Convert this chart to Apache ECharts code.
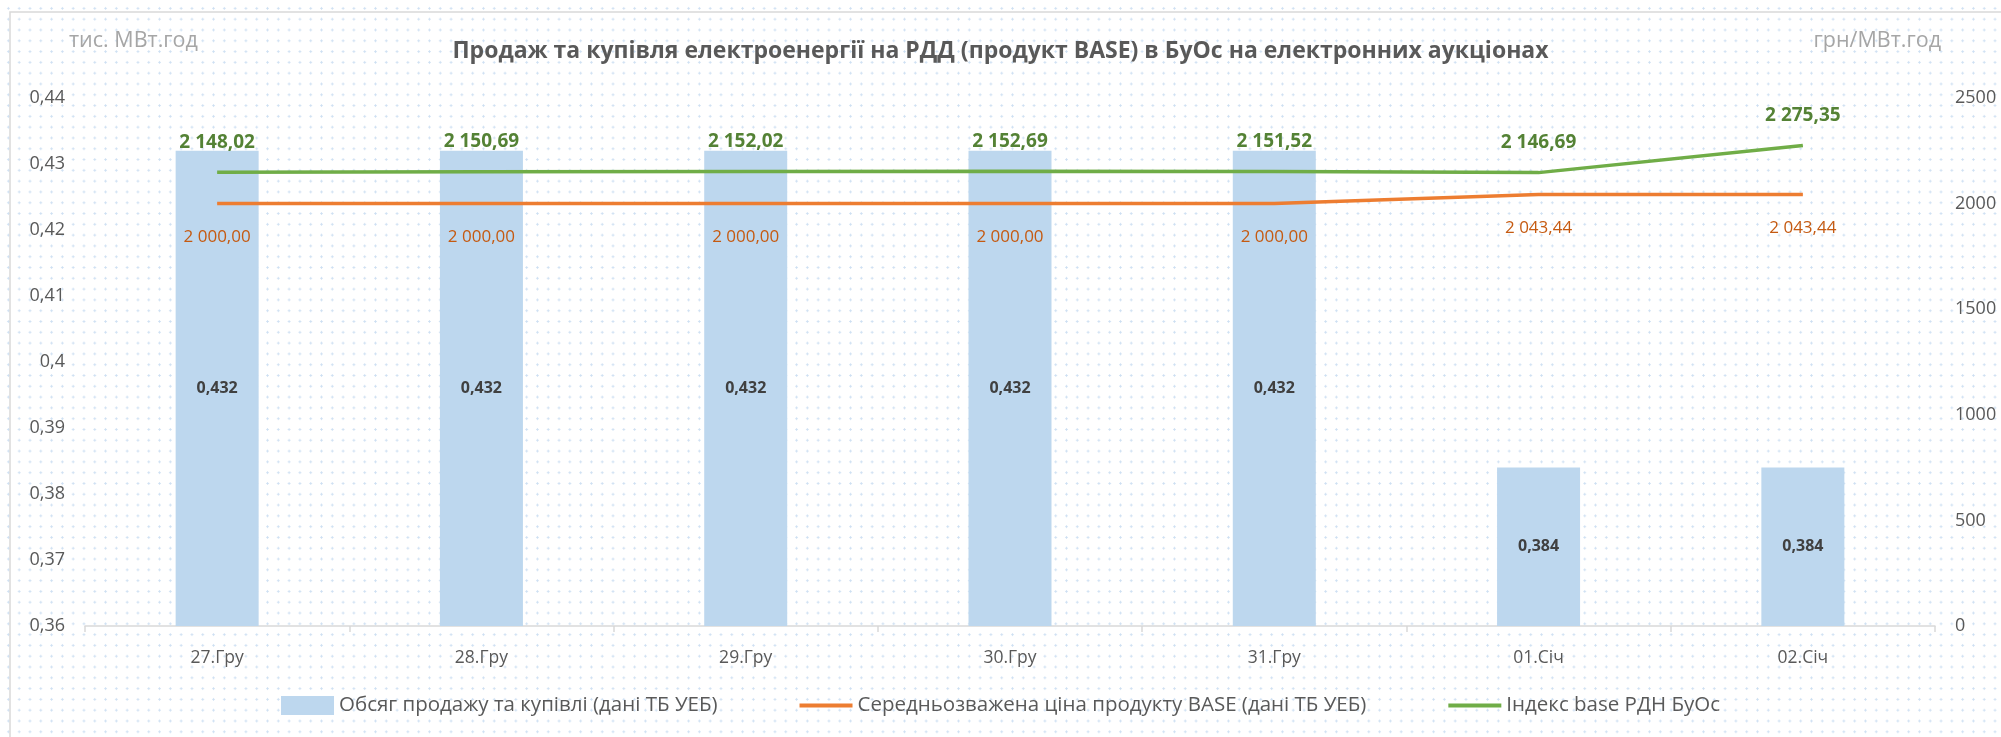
<!DOCTYPE html>
<html lang="uk">
<head>
  <meta charset="UTF-8">
  <title>Продаж та купівля електроенергії на РДД</title>
  <script src="https://cdn.jsdelivr.net/npm/echarts@6/dist/echarts.min.js"></script>
  <style>
    html,body{padding:0;margin:0;}
    body{
      background-color:#fff;
      background-image:radial-gradient(circle, #cddff2 0.9px, transparent 1.4px);
      background-size:10.8px 10.8px;
      background-position:3px 3px;
    }
    #chartBox{width:2001px;height:737px;}
  </style>
</head>
<body>
  <div id="chartBox"></div>
  <script>
    // дані з графіка
    const days = ['27.Гру','28.Гру','29.Гру','30.Гру','31.Гру','01.Січ','02.Січ']
    const volume = [0.432,0.432,0.432,0.432,0.432,0.384,0.384]      // тис. МВт.год
    const avgPrice = [2000,2000,2000,2000,2000,2043.44,2043.44]      // грн/МВт.год
    const baseIndex = [2148.02,2150.69,2152.02,2152.69,2151.52,2146.69,2275.35]
    const seriesNames = ['Обсяг продажу та купівлі (дані ТБ УЕБ)','Середньозважена ціна продукту BASE (дані ТБ УЕБ)','Індекс base РДН БуОс']

    const font = "'Open Sans', sans-serif"
    const grey = '#595959'
    const lineIcon = 'path://M0,0 H53 V4 H0 Z'

    // 2148.02 -> "2 148,02"
    function money(v){
      let s = v.toFixed(2).split('.')
      return s[0].replace(/\B(?=(\d{3})+(?!\d))/g,' ') + ',' + s[1]
    }

    let option = {
      backgroundColor:'transparent',
      textStyle:{fontFamily:font},
      animation:false,
      title:{
        text:'Продаж та купівля електроенергії на РДД (продукт BASE) в БуОс на електронних аукціонах',
        left:'center',
        top:35,
        textStyle:{fontSize:23,fontWeight:'bold',color:grey,fontFamily:font}
      },
      graphic:[
        {type:'rect',shape:{x:10,y:12,width:2100,height:800},style:{fill:'none',stroke:'#d9d9d9',lineWidth:1.5},silent:true},
        {type:'text',x:69,y:41,style:{text:'тис. МВт.год',fill:'#a6a6a6',fontSize:21.5,fontFamily:font,verticalAlign:'middle'}},
        {type:'text',x:1941,y:41,style:{text:'грн/МВт.год',fill:'#a6a6a6',fontSize:21.5,fontFamily:font,align:'right',verticalAlign:'middle'}}
      ],
      legend:{
        bottom:16,
        left:'center',
        itemWidth:53,
        itemHeight:19,
        itemGap:82,
        textStyle:{color:grey,fontSize:20.5,fontFamily:font},
        data:[
          {name:seriesNames[0],icon:'rect'},
          {name:seriesNames[1],icon:lineIcon},
          {name:seriesNames[2],icon:lineIcon}
        ]
      },
      grid:{left:85,right:66,top:98,bottom:111,containLabel:false},
      xAxis:{
        type:'category',
        data:days,
        axisLine:{lineStyle:{color:'#d9d9d9',width:1.5}},
        axisTick:{show:true,length:6,lineStyle:{color:'#d9d9d9',width:1.5}},
        axisLabel:{color:grey,fontSize:17.5,margin:23}
      },
      yAxis:[
        {
          type:'value',min:0.36,max:0.44,interval:0.01,
          axisLine:{show:false},axisTick:{show:false},splitLine:{show:false},
          axisLabel:{color:grey,fontSize:18,margin:20,
            formatter:v=>String(Number(v.toFixed(2))).replace('.',',')}
        },
        {
          type:'value',min:0,max:2500,interval:500,
          axisLine:{show:false},axisTick:{show:false},splitLine:{show:false},
          axisLabel:{color:grey,fontSize:18,margin:20,formatter:v=>String(v)}
        }
      ],
      series:[
        {
          name:seriesNames[0],
          type:'bar',
          yAxisIndex:0,
          barWidth:83,
          itemStyle:{color:'#bdd7ee'},
          label:{show:true,position:'inside',color:'#404040',fontWeight:'bold',fontSize:16,
            formatter:p=>String(p.value).replace('.',',')},
          data:volume
        },
        {
          name:seriesNames[1],
          type:'line',
          yAxisIndex:1,
          symbol:'circle',
          symbolSize:0.5,
          color:'#ed7d31',
          lineStyle:{width:3.5,color:'#ed7d31'},
          label:{show:true,position:'bottom',distance:25,color:'#c55a11',fontSize:17,
            formatter:p=>money(p.value)},
          data:avgPrice
        },
        {
          name:seriesNames[2],
          type:'line',
          yAxisIndex:1,
          symbol:'circle',
          symbolSize:0.5,
          color:'#70ad47',
          lineStyle:{width:3.5,color:'#70ad47'},
          label:{show:true,position:'top',distance:20,color:'#548235',fontSize:19,fontWeight:'bold',
            formatter:p=>money(p.value)},
          data:baseIndex
        }
      ]
    }
    let myChart = echarts.init(document.getElementById('chartBox'))
    if(myChart){myChart.setOption(option)}
  </script>
</body>
</html>
